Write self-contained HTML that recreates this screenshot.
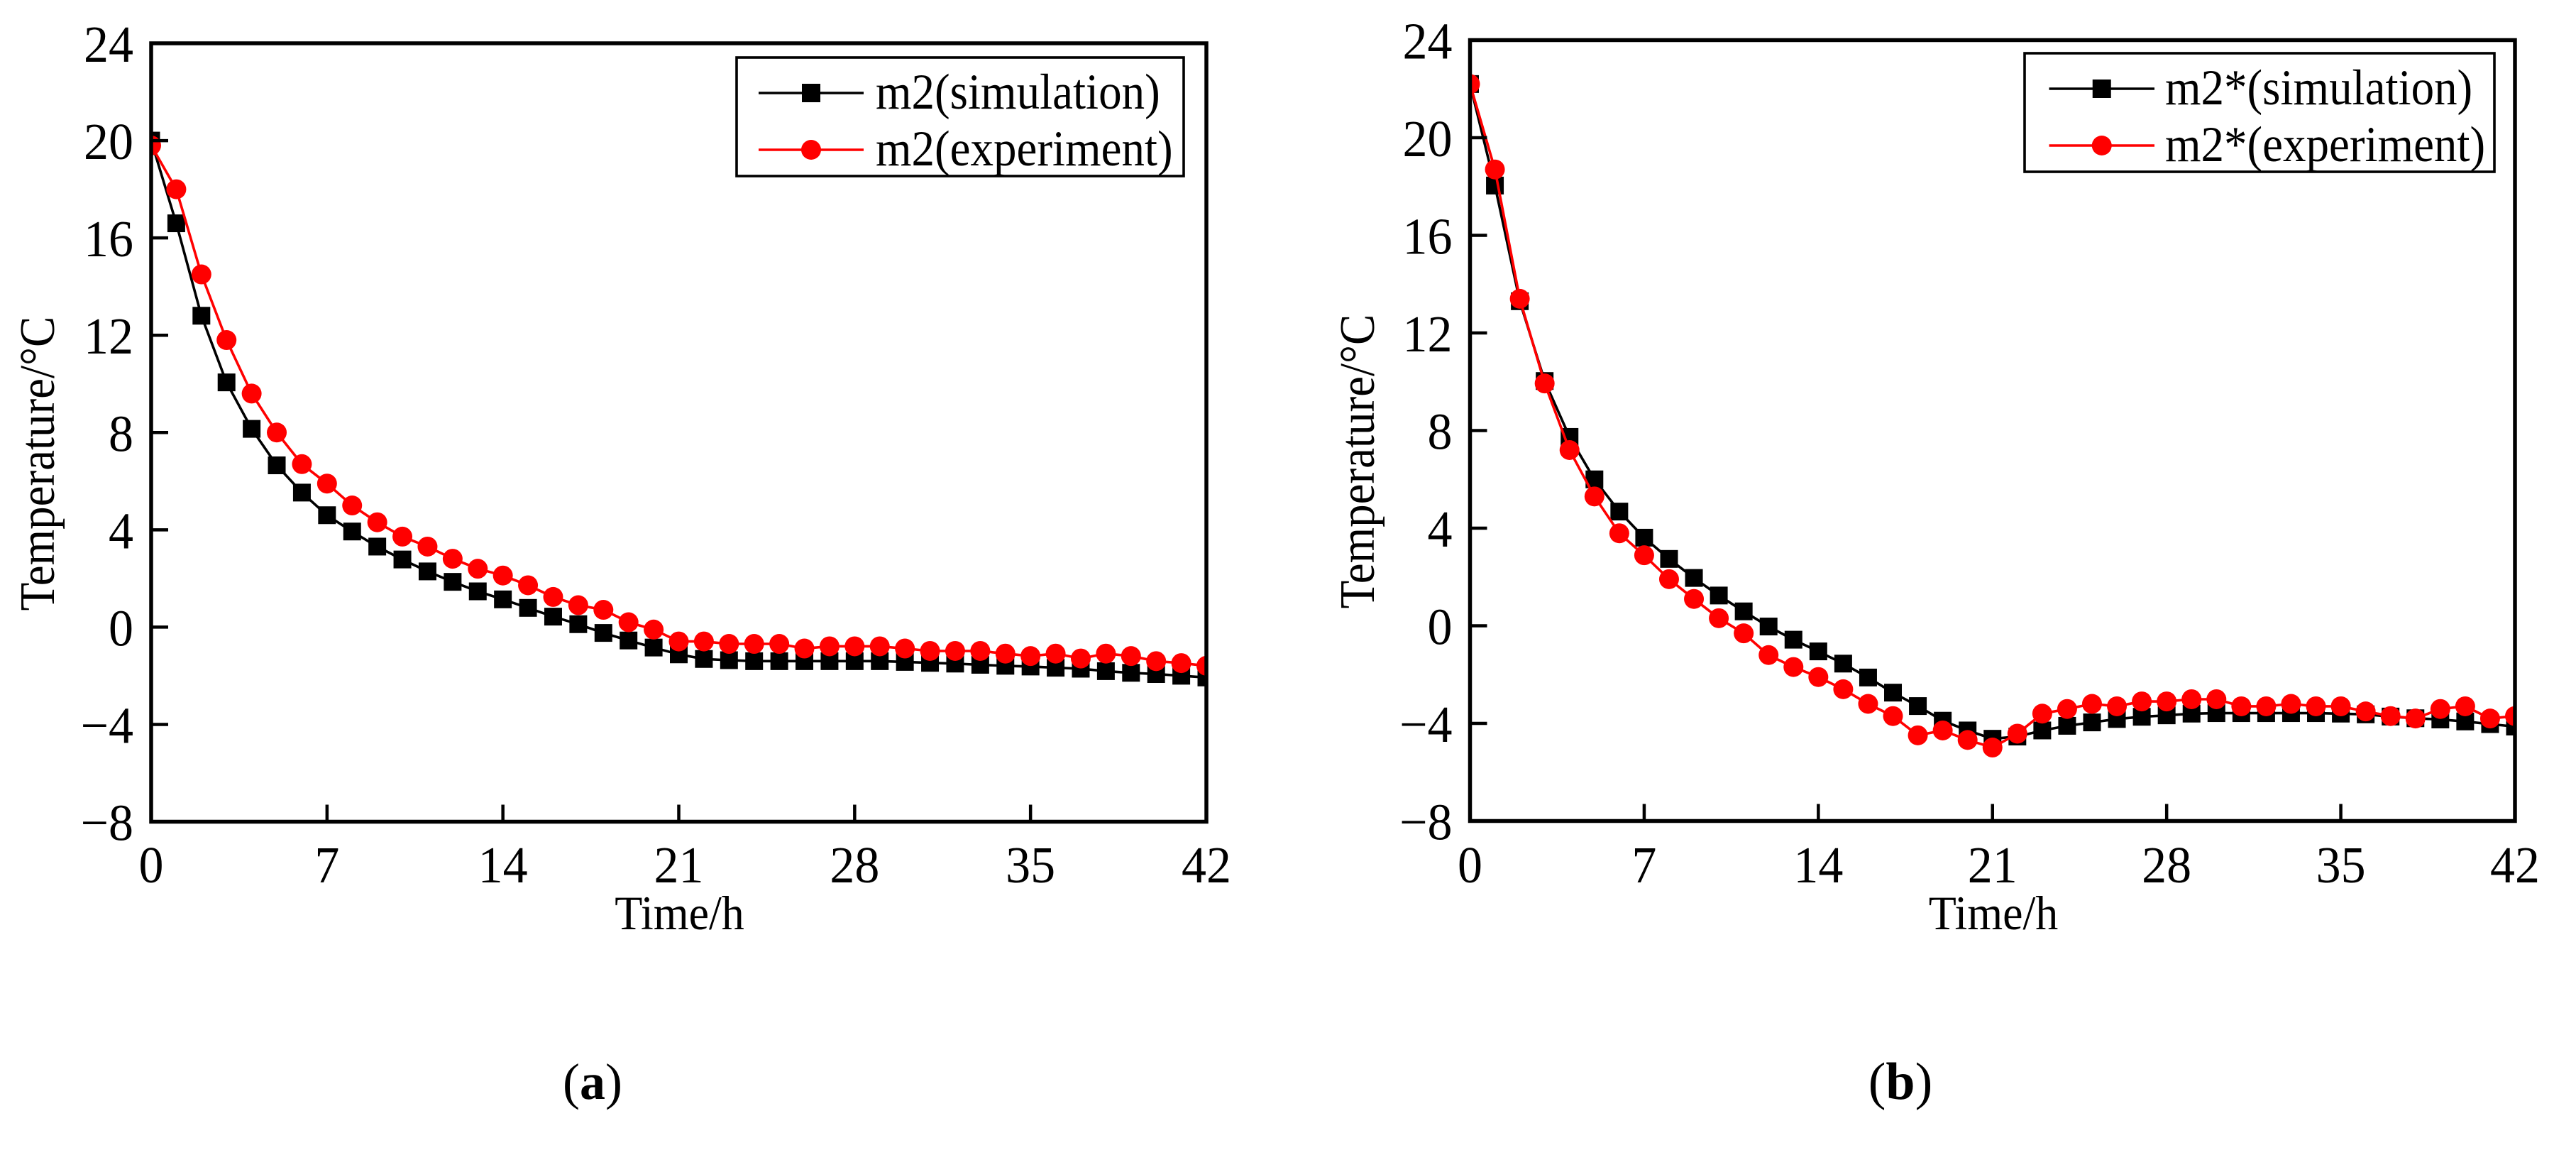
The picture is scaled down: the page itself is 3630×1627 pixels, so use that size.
<!DOCTYPE html>
<html lang="en">
<head>
<meta charset="utf-8">
<title>Temperature vs time: m2 and m2*</title>
<style>
html,body{margin:0;padding:0;background:#fff;}
svg{display:block;}
text{font-family:"Liberation Serif",serif;fill:#000;}
</style>
</head>
<body>
<svg id="figure" xmlns="http://www.w3.org/2000/svg" width="3630" height="1627" viewBox="0 0 3630 1627">
<rect width="3630" height="1627" fill="#fff"/>
</svg>
<script>
const xTicks = [0, 7, 14, 21, 28, 35, 42];
const yTicks = [24, 20, 16, 12, 8, 4, 0, -4, -8];
const hours = [0,1,2,3,4,5,6,7,8,9,10,11,12,13,14,15,16,17,18,19,20,21,22,23,24,25,26,27,28,29,30,31,32,33,34,35,36,37,38,39,40,41,42];

const m2Simulation = [20,16.6,12.8,10.06,8.15,6.65,5.53,4.6,3.93,3.31,2.78,2.29,1.86,1.47,1.14,0.79,0.43,0.12,-0.24,-0.55,-0.84,-1.12,-1.31,-1.36,-1.4,-1.4,-1.4,-1.4,-1.4,-1.4,-1.43,-1.47,-1.5,-1.55,-1.59,-1.62,-1.67,-1.71,-1.81,-1.88,-1.93,-2.0,-2.07];
const m2Experiment = [19.8,18.0,14.5,11.8,9.6,8.0,6.7,5.9,5.0,4.31,3.72,3.31,2.81,2.4,2.12,1.72,1.24,0.9,0.71,0.2,-0.1,-0.59,-0.59,-0.69,-0.69,-0.69,-0.88,-0.79,-0.79,-0.79,-0.88,-0.98,-0.98,-0.98,-1.09,-1.19,-1.09,-1.29,-1.09,-1.19,-1.4,-1.48,-1.59];
const m2StarSimulation = [22.2,18.04,13.3,10.03,7.74,6.0,4.68,3.61,2.74,1.96,1.24,0.59,-0.03,-0.57,-1.05,-1.55,-2.12,-2.74,-3.29,-3.89,-4.29,-4.63,-4.54,-4.29,-4.1,-3.96,-3.82,-3.73,-3.67,-3.6,-3.58,-3.58,-3.58,-3.58,-3.58,-3.6,-3.63,-3.72,-3.79,-3.84,-3.92,-4.03,-4.13];
const m2StarExperiment = [22.2,18.7,13.4,9.93,7.2,5.3,3.79,2.89,1.91,1.1,0.31,-0.31,-1.2,-1.69,-2.1,-2.6,-3.2,-3.7,-4.49,-4.29,-4.68,-4.99,-4.42,-3.6,-3.41,-3.2,-3.3,-3.1,-3.1,-3.01,-3.01,-3.3,-3.3,-3.2,-3.3,-3.3,-3.51,-3.7,-3.8,-3.41,-3.3,-3.8,-3.7];

const xAxisTitle = 'Time/h';
const yAxisTitle = 'Temperature/°C';

const SVG_NS = 'http://www.w3.org/2000/svg';
const figure = document.getElementById('figure');

function make(parent, tag, attrs, content) {
  const el = document.createElementNS(SVG_NS, tag);
  for (const k in attrs) el.setAttribute(k, attrs[k]);
  if (content !== undefined) el.textContent = content;
  parent.appendChild(el);
  return el;
}

function stretched(x, y, sy) {
  return 'translate(' + x + ' ' + y + ') scale(1 ' + sy + ')';
}

function tickText(v) {
  return v < 0 ? '\u2212' + Math.abs(v) : String(v);
}

function drawPanel(cfg) {
  const g = make(figure, 'g', {});
  
  

  const xScale = t => cfg.left + (t - xTicks[0]) / (xTicks[xTicks.length - 1] - xTicks[0]) * (cfg.right - cfg.left);
  const yScale = v => cfg.bottom - (v - (-8)) / (24 - (-8)) * (cfg.bottom - cfg.top);

  const clip = make(g, 'clipPath', { id: cfg.id + '-clip' });
  make(clip, 'rect', { x: cfg.left, y: cfg.top, width: cfg.right - cfg.left, height: cfg.bottom - cfg.top });

  const plot = make(g, 'g', { 'clip-path': 'url(#' + cfg.id + '-clip)' });
  
  

  cfg.series.forEach(s => {
    const sg = make(plot, 'g', {});
    
    
    const pts = hours.map((t, i) => xScale(t).toFixed(1) + ',' + yScale(s.values[i]).toFixed(1)).join(' ');
    const line = make(sg, 'polyline', { points: pts, fill: 'none', stroke: s.color, 'stroke-width': 3.6 });
    
    
    hours.forEach((t, i) => {
      const cx = xScale(t), cy = yScale(s.values[i]);
      let m;
      if (s.marker === 'square') {
        m = make(sg, 'rect', { x: cx - 12.5, y: cy - 12.5, width: 25, height: 25, fill: s.color });
      } else {
        m = make(sg, 'circle', { cx: cx, cy: cy, r: 14, fill: s.color });
      }
      
      
    });
  });

  const frame = make(g, 'rect', { x: cfg.left, y: cfg.top, width: cfg.right - cfg.left, height: cfg.bottom - cfg.top, fill: 'none', stroke: '#000', 'stroke-width': 5.5 });
  
  

  yTicks.forEach(v => {
    const y = yScale(v);
    if (v !== 24 && v !== -8) {
      const tick = make(g, 'line', { x1: cfg.left, x2: cfg.left + 24, y1: y, y2: y, stroke: '#000', 'stroke-width': 4.5 });
      
      
    }
    const label = make(g, 'text', { transform: stretched(cfg.left - 25, y + 26, 1.05), 'text-anchor': 'end', 'font-size': 70 }, tickText(v));
    
    
  });

  xTicks.forEach(t => {
    const x = xScale(t);
    if (t !== 0 && t !== 42) {
      const tick = make(g, 'line', { x1: x, x2: x, y1: cfg.bottom, y2: cfg.bottom - 24, stroke: '#000', 'stroke-width': 4.5 });
      
      
    }
    const label = make(g, 'text', { transform: stretched(x, 1243, 1.05), 'text-anchor': 'middle', 'font-size': 70 }, tickText(t));
    
    
  });

  const xTitle = make(g, 'text', { transform: stretched(cfg.xTitleX, 1309, 1.06), 'text-anchor': 'middle', 'font-size': 64 }, xAxisTitle);
  
  

  const yTitle = make(g, 'text', { 'text-anchor': 'middle', 'font-size': 65, transform: 'translate(' + cfg.yTitleX + ' ' + cfg.yTitleY + ') rotate(-90) scale(1 1.08)' }, yAxisTitle);
  
  

  const lg = make(g, 'g', {});
  
  
  const box = make(lg, 'rect', { x: cfg.legend.x1, y: cfg.legend.y1, width: cfg.legend.x2 - cfg.legend.x1, height: cfg.legend.y2 - cfg.legend.y1, fill: '#fff', stroke: '#000', 'stroke-width': 3.6 });
  
  
  cfg.series.forEach((s, i) => {
    const rowY = cfg.legend.rowY[i];
    const entry = make(lg, 'g', {});
    
    
    make(entry, 'line', { x1: cfg.legend.lineX1, x2: cfg.legend.lineX2, y1: rowY, y2: rowY, stroke: s.color, 'stroke-width': 3.6 });
    const mx = (cfg.legend.lineX1 + cfg.legend.lineX2) / 2;
    if (s.marker === 'square') {
      make(entry, 'rect', { x: mx - 13, y: rowY - 13, width: 26, height: 26, fill: s.color });
    } else {
      make(entry, 'circle', { cx: mx, cy: rowY, r: 14, fill: s.color });
    }
    make(entry, 'text', { transform: stretched(cfg.legend.textX, rowY + 22, 1.1), 'font-size': 65 }, s.label);
  });

  const caption = make(g, 'text', { x: cfg.captionX, y: 1548, 'text-anchor': 'middle', 'font-size': cfg.captionSize });
  make(caption, 'tspan', {}, '(');
  make(caption, 'tspan', { 'font-weight': 'bold' }, cfg.caption);
  make(caption, 'tspan', {}, ')');
  
  
}

drawPanel({
  id: 'panel-a', left: 213, right: 1700, top: 61, bottom: 1157.5,
  xTitleX: 957.5, yTitleX: 76, yTitleY: 653, captionX: 835, caption: 'a', captionSize: 72,
  legend: { x1: 1038, x2: 1668, y1: 81, y2: 248, rowY: [131, 211], lineX1: 1069, lineX2: 1217, textX: 1234 },
  series: [
    { name: 'm2-simulation', label: 'm2(simulation)', color: '#000', marker: 'square', values: m2Simulation },
    { name: 'm2-experiment', label: 'm2(experiment)', color: '#f00', marker: 'circle', values: m2Experiment }
  ]
});

drawPanel({
  id: 'panel-b', left: 2071.5, right: 3544, top: 56.5, bottom: 1156.5,
  xTitleX: 2809, yTitleX: 1936, yTitleY: 650, captionX: 2678, caption: 'b', captionSize: 74,
  legend: { x1: 2853, x2: 3515, y1: 75, y2: 242, rowY: [125, 205], lineX1: 2887.5, lineX2: 3036, textX: 3051 },
  series: [
    { name: 'm2-star-simulation', label: 'm2*(simulation)', color: '#000', marker: 'square', values: m2StarSimulation },
    { name: 'm2-star-experiment', label: 'm2*(experiment)', color: '#f00', marker: 'circle', values: m2StarExperiment }
  ]
});
</script>
</body>
</html>
